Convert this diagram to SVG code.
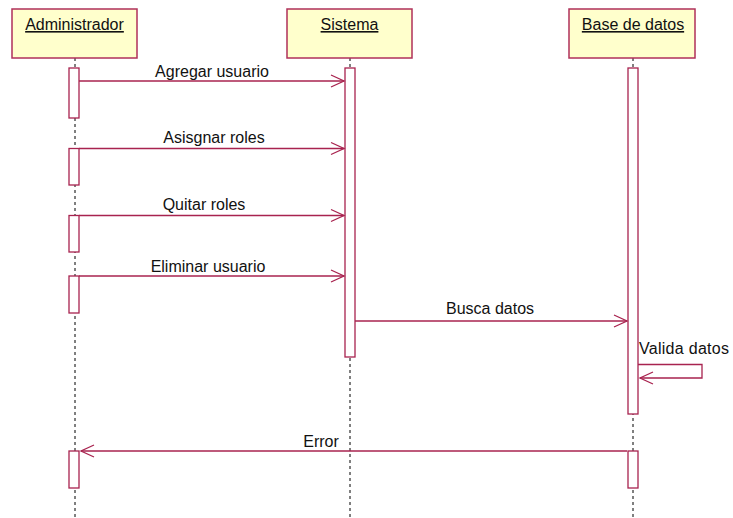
<svg xmlns="http://www.w3.org/2000/svg" width="733" height="518" viewBox="0 0 733 518">
<style>
.obj{fill:#ffffcc;stroke:#b0305a;stroke-width:1.5}
.act{fill:#ffffff;stroke:#a8234f;stroke-width:1.3}
.life{stroke:#000;stroke-width:1;stroke-dasharray:3 3;fill:none}
.msg{stroke:#a8234f;stroke-width:1.3;fill:none}
text{font-family:"Liberation Sans",Arial,sans-serif;font-size:16px;fill:#111}
.hdr{text-decoration:underline;text-anchor:middle}
.lbl{text-anchor:middle}
</style>
<defs>
<marker id="open" markerUnits="userSpaceOnUse" markerWidth="16" markerHeight="16" viewBox="0 0 16 16" refX="14" refY="8" orient="auto">
<path d="M1,2 L14,8 L1,14" fill="none" stroke="#a8234f" stroke-width="1.3"/>
</marker>
</defs>
<g id="lifelines">
<line class="life" x1="75" y1="58" x2="75" y2="518"/>
<line class="life" x1="350" y1="58" x2="350" y2="518"/>
<line class="life" x1="633" y1="58" x2="633" y2="518"/>
</g>
<g id="Administrador">
<rect class="obj" x="12" y="9" width="125" height="49"/>
<text class="hdr" x="74.5" y="30">Administrador</text>
<rect class="act" x="69" y="68" width="10" height="50"/>
<rect class="act" x="69" y="148.5" width="10" height="36.5"/>
<rect class="act" x="69" y="215.5" width="10" height="36.5"/>
<rect class="act" x="69" y="276" width="10" height="37"/>
<rect class="act" x="69" y="451" width="10" height="37"/>
</g>
<g id="Sistema">
<rect class="obj" x="287" y="9" width="125" height="49"/>
<text class="hdr" x="349.5" y="30">Sistema</text>
<rect class="act" x="345" y="68" width="10" height="289"/>
</g>
<g id="BaseDeDatos">
<rect class="obj" x="569" y="9" width="126" height="49"/>
<text class="hdr" x="633" y="30">Base de datos</text>
<rect class="act" x="628" y="68" width="10" height="346"/>
<rect class="act" x="628" y="451" width="10" height="37"/>
</g>
<g id="connectors">
<line class="msg" x1="79" y1="81" x2="344" y2="81" marker-end="url(#open)"/>
<text class="lbl" x="212" y="77">Agregar usuario</text>
<line class="msg" x1="79" y1="148.5" x2="344" y2="148.5" marker-end="url(#open)"/>
<text class="lbl" x="214" y="143">Asisgnar roles</text>
<line class="msg" x1="79" y1="215.5" x2="344" y2="215.5" marker-end="url(#open)"/>
<text class="lbl" x="204" y="210">Quitar roles</text>
<line class="msg" x1="79" y1="276" x2="344" y2="276" marker-end="url(#open)"/>
<text class="lbl" x="208" y="272">Eliminar usuario</text>
<line class="msg" x1="355" y1="321" x2="627" y2="321" marker-end="url(#open)"/>
<text class="lbl" x="490" y="314">Busca datos</text>
<path class="msg" d="M638,364.5 H702 V378 H640" marker-end="url(#open)"/>
<text x="639" y="354" textLength="90">Valida datos</text>
<line class="msg" x1="627" y1="451" x2="81" y2="451" marker-end="url(#open)"/>
<text class="lbl" x="321" y="447">Error</text>
</g>
</svg>
